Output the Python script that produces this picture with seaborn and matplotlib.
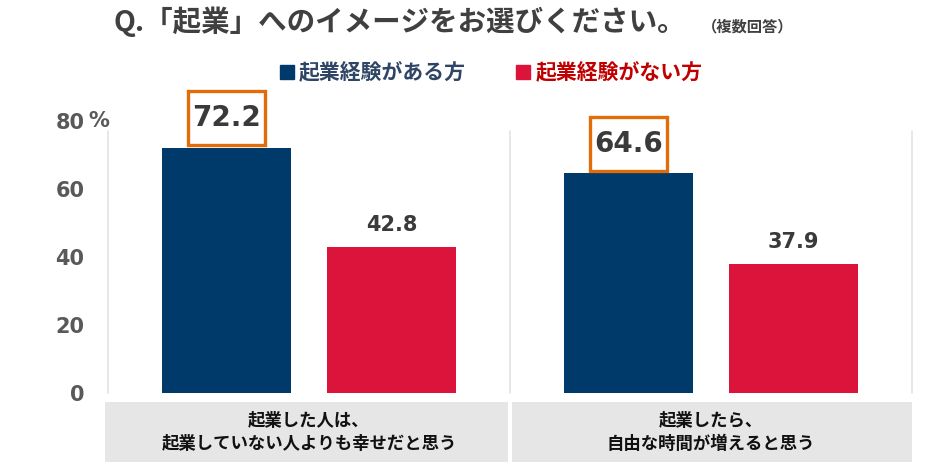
import pandas as pd
import seaborn as sns
import matplotlib.pyplot as plt
from matplotlib.patches import Rectangle
from matplotlib.lines import Line2D
import matplotlib.transforms as mtransforms

# DATA
categories = ["起業した人は、\n起業していない人よりも幸せだと思う", "起業したら、\n自由な時間が増えると思う"]
groups = ["起業経験がある方", "起業経験がない方"]
values_experienced = [72.2, 64.6]
values_inexperienced = [42.8, 37.9]
y_ticks = [0, 20, 40, 60, 80]

# SETTING
color_blue = "#003a6b"
color_red = "#dc143c"
color_orange = "#e36c0a"
text_dark = "#3a3a3a"
tick_gray = "#595959"
cjk = ['Noto Sans CJK JP', 'DejaVu Sans']

df = pd.DataFrame({
    "category": categories * 2,
    "group": [groups[0]] * len(categories) + [groups[1]] * len(categories),
    "value": values_experienced + values_inexperienced,
})

sns.set_theme(style="white")
plt.rcParams['font.family'] = ['DejaVu Sans', 'Noto Sans CJK JP']

fig = plt.figure(figsize=(9.26, 4.69), dpi=100)
ax = fig.add_axes([108 / 926, 1 - 393 / 469, (912 - 108) / 926, (393 - 121) / 469])

sns.barplot(data=df, x="category", y="value", hue="group", hue_order=groups,
            palette=[color_blue, color_red], width=0.82, gap=0.22, ax=ax,
            legend=False, saturation=1, edgecolor="none")

ax.set_xlim(-0.5, 1.5)
ax.set_ylim(0, 80)
ax.set_xlabel("")
ax.set_ylabel("")
ax.set_xticks([])
ax.set_yticks(y_ticks)
ax.set_yticklabels([str(t) for t in y_ticks], fontsize=15, fontweight="bold", color=tick_gray)
ax.tick_params(axis="y", length=0, pad=17)
for s in ax.spines.values():
    s.set_visible(False)
ax.text(-0.025, 80, "%", transform=mtransforms.blended_transform_factory(ax.transAxes, ax.transData),
        ha="left", va="center", fontsize=15, fontweight="bold", color=tick_gray)

# vertical separators
for xv in [-0.5, 0.5, 1.5]:
    ax.plot([xv, xv], [0, 77], color="#e3e3e3", linewidth=1.2, zorder=0, clip_on=False)

# value labels
px_x = 402.0   # pixels per category
px_y = 3.4     # pixels per unit
for container, vals, big in zip(ax.containers, [values_experienced, values_inexperienced], [True, False]):
    for bar, v in zip(container, vals):
        cx = bar.get_x() + bar.get_width() / 2
        if big:
            bw = 77 / px_x
            bh = 54 / px_y
            y0 = v + 0.7
            ax.add_patch(Rectangle((cx - bw / 2, y0), bw, bh, facecolor="white", edgecolor=color_orange,
                                   linewidth=2.4, clip_on=False, zorder=3))
            ax.text(cx, y0 + bh / 2, f"{v:.1f}", ha="center", va="center", fontsize=20, fontweight="bold",
                    color=text_dark, clip_on=False, zorder=4)
        else:
            ax.text(cx, v + 6.5, f"{v:.1f}", ha="center", va="center", fontsize=15, fontweight="bold",
                    color=text_dark, clip_on=False)

# category band
trans = mtransforms.blended_transform_factory(ax.transData, ax.transAxes)
band_edges = [(-0.508, 0.496), (0.504, 1.5)]
for i, cat in enumerate(categories):
    x0, x1 = band_edges[i]
    ax.add_patch(Rectangle((x0, -0.254), x1 - x0, 0.221,
                           transform=trans, facecolor="#e6e6e6", edgecolor="none", clip_on=False))
    ax.text(i, -0.145, cat, transform=trans, ha="center", va="center", fontsize=12.5,
            fontweight="bold", color="#111111", linespacing=1.3, family=cjk)

# title
fig.text(400 / 926, 1 - 22 / 469, "Q.「起業」へのイメージをお選びください。", ha="center", va="center",
         fontsize=20.5, fontweight="bold", color="#404040", family=cjk)
fig.text(748 / 926, 1 - 26 / 469, "（複数回答）", ha="center", va="center",
         fontsize=11, fontweight="bold", color="#404040", family=cjk)

# legend
handles = [Line2D([], [], marker="s", linestyle="", markersize=10, color=c) for c in [color_blue, color_red]]
leg = fig.legend(handles, groups, loc="center", bbox_to_anchor=(491 / 926, 1 - 73 / 469), ncol=2,
                 frameon=False, handlelength=0.7, handletextpad=0.25, columnspacing=2.4,
                 prop={'family': cjk, 'weight': 'bold', 'size': 15})
for t, c in zip(leg.get_texts(), ["#2f4565", "#c00000"]):
    t.set_color(c)

plt.savefig("out.png", dpi=100)
plt.close()
